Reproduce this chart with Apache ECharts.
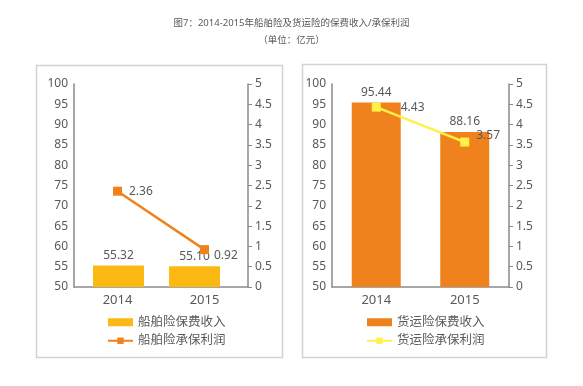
<!DOCTYPE html>
<html><head><meta charset="utf-8">
<script src="https://cdn.jsdelivr.net/npm/echarts@6/dist/echarts.min.js"></script>
<style>html,body{margin:0;padding:0;background:#fff}#c{width:583px;height:386px}</style>
</head><body><div id="c"></div>
<script>
const years = ['2014', '2015'];
const shipPremium = [55.32, 55.10];
const shipProfit = [2.36, 0.92];
const cargoPremium = [95.44, 88.16];
const cargoProfit = [4.43, 3.57];
const leftTicks = [50, 100, 5];   // min, max, interval
const rightTicks = [0, 5, 0.5];
const names = ['船舶险保费收入', '船舶险承保利润', '货运险保费收入', '货运险承保利润'];

const txt = '#595959', axisC = '#8a8a8a', F = 'Noto Sans, Noto Sans CJK SC, sans-serif';
const chart = echarts.init(document.getElementById('c'));

function yLeft(gi, hidden) {
  return { type: 'value', gridIndex: gi, min: leftTicks[0], max: leftTicks[1], interval: leftTicks[2], show: !hidden,
    axisLine: { show: true, lineStyle: { color: axisC, width: 1.5 } }, axisTick: { show: false },
    splitLine: { show: false }, axisLabel: { color: txt, fontSize: 12, margin: 6, fontFamily: F } };
}
function yRight(gi) {
  return { type: 'value', gridIndex: gi, position: 'right', min: rightTicks[0], max: rightTicks[1], interval: rightTicks[2],
    axisLine: { show: true, lineStyle: { color: axisC, width: 1.5 } },
    axisTick: { show: true, length: 4, lineStyle: { color: axisC } },
    splitLine: { show: false }, axisLabel: { color: txt, fontSize: 12, margin: 7, fontFamily: F } };
}
function xAx(gi, hidden) {
  return { type: 'category', gridIndex: gi, data: years, show: !hidden,
    axisLine: { lineStyle: { color: axisC, width: 1.5 } }, axisTick: { show: false },
    axisLabel: { color: txt, fontSize: 13, margin: 7, fontFamily: F } };
}
const lbl = { color: txt, fontSize: 12, fontFamily: F };
const fmt2 = p => Number(p.value).toFixed(2);

chart.setOption({
  animation: false,
  title: [
    { text: '图7：2014-2015年船舶险及货运险的保费收入/承保利润', left: 'center', top: 14,
      textStyle: { fontSize: 9.5, fontWeight: 'normal', color: txt, fontFamily: F } },
    { text: '（单位：亿元）', left: 'center', top: 31,
      textStyle: { fontSize: 9.5, fontWeight: 'normal', color: txt, fontFamily: F } }
  ],
  graphic: [
    { type: 'rect', shape: { x: 36.5, y: 65.5, width: 246, height: 292 }, style: { fill: 'none', stroke: '#d2d2d2', lineWidth: 1.5 }, z: -1 },
    { type: 'rect', shape: { x: 302.5, y: 64.5, width: 244, height: 293 }, style: { fill: 'none', stroke: '#d2d2d2', lineWidth: 1.5 }, z: -1 }
  ],
  grid: [
    { left: 74, top: 84, width: 174, height: 203 },
    { left: 332, top: 84, width: 177, height: 203 },
    { left: 80.5, top: 84, width: 152, height: 203 }
  ],
  xAxis: [xAx(0), xAx(1), xAx(2, true)],
  yAxis: [yLeft(0), yRight(0), yLeft(1), yRight(1), yLeft(2, true)],
  legend: [
    { orient: 'vertical', left: 107, top: 316, padding: 0, itemWidth: 25, itemHeight: 8, itemGap: 6,
      textStyle: { color: txt, fontSize: 12.5, fontFamily: F },
      data: [{ name: names[0], icon: 'rect' }, { name: names[1] }] },
    { orient: 'vertical', left: 366, top: 316, padding: 0, itemWidth: 25, itemHeight: 8, itemGap: 6,
      textStyle: { color: txt, fontSize: 12.5, fontFamily: F },
      data: [{ name: names[2], icon: 'rect' }, { name: names[3] }] }
  ],
  series: [
    { name: names[0], type: 'bar', xAxisIndex: 2, yAxisIndex: 4, data: shipPremium, barWidth: 51, z: 1,
      itemStyle: { color: '#FDB913' }, label: Object.assign({ show: true, position: 'top', distance: 4, formatter: fmt2 }, lbl) },
    { name: names[1], type: 'line', xAxisIndex: 0, yAxisIndex: 1, z: 3,
      data: [shipProfit[0], { value: shipProfit[1], label: { offset: [-2, 6] } }],
      symbol: 'rect', symbolSize: 9, lineStyle: { color: '#F0821E', width: 2.5 }, itemStyle: { color: '#F0821E' },
      label: Object.assign({ show: true, position: 'right', distance: 7, formatter: fmt2 }, lbl) },
    { name: names[2], type: 'bar', xAxisIndex: 1, yAxisIndex: 2, data: cargoPremium, barWidth: 49,
      itemStyle: { color: '#F0821E' }, label: Object.assign({ show: true, position: 'top', distance: 4, formatter: fmt2 }, lbl) },
    { name: names[3], type: 'line', xAxisIndex: 1, yAxisIndex: 3,
      data: [{ value: cargoProfit[0], label: { offset: [13, 0] } }, { value: cargoProfit[1], label: { offset: [0, -6] } }],
      symbol: 'rect', symbolSize: 9, lineStyle: { color: '#FFF04A', width: 2.5 }, itemStyle: { color: '#FFF04A' },
      label: Object.assign({ show: true, position: 'right', distance: 7, formatter: fmt2 }, lbl) }
  ]
});
</script></body></html>
